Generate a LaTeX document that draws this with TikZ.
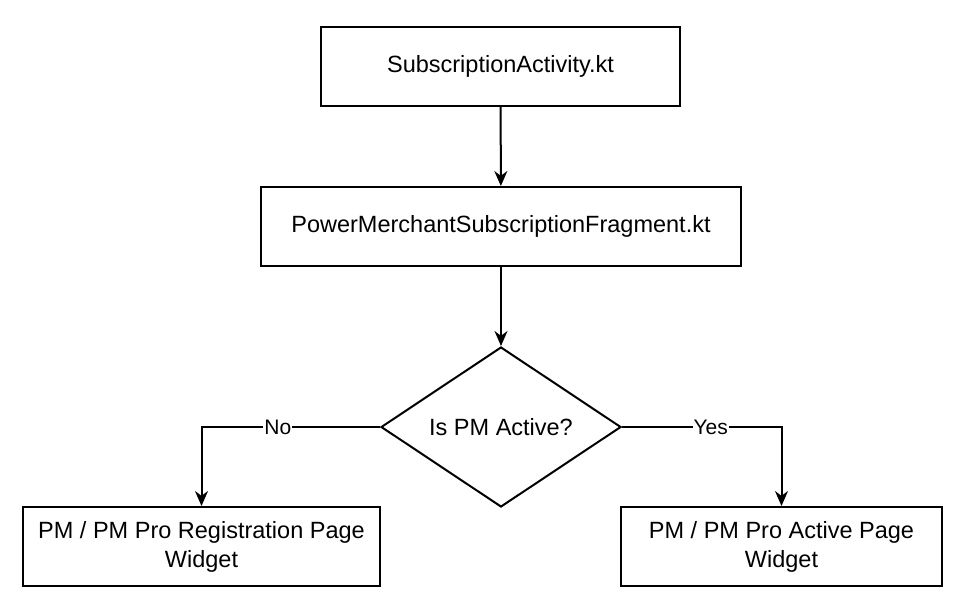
\documentclass[tikz,border=0pt]{standalone}
\usepackage{fontspec}
\setmainfont{Liberation Sans}
\usetikzlibrary{shapes.geometric,arrows.meta}

\begin{document}
\begin{tikzpicture}[x=1pt, y=-1pt, >={Stealth[length=15pt,width=13pt]},
  every node/.style={font=\fontsize{23.5}{29}\selectfont},
  box/.style={draw, line width=2pt, inner sep=0pt, align=center, minimum height=79pt},
  flow/.style={->, line width=2pt}]
  \useasboundingbox (0,0) rectangle (962,614);
  \node[box, minimum width=359pt] (act) at (500.5,66) {SubscriptionActivity.kt};
  \node[box, minimum width=480pt] (frag) at (501,226.5) {PowerMerchantSubscriptionFragment.kt};
  \node[draw, line width=2pt, shape=diamond, aspect=1.5, inner sep=0pt,
        minimum width=240pt, minimum height=160pt] (pm) at (501,427) {Is PM Active?};
  \node[box, minimum width=357pt] (reg) at (201.5,546.5) {PM / PM Pro Registration Page\\Widget};
  \node[box, minimum width=321pt] (actv) at (781.5,546.5) {PM / PM Pro Active Page\\Widget};
  \draw[flow] (act) -- (frag);
  \draw[flow] (frag) -- (pm);
  \draw[flow] (pm.west) -| (reg.north)
    node[pos=0.286, fill=white, inner sep=1pt, font=\fontsize{21}{22}\selectfont] {No};
  \draw[flow] (pm.east) -| (actv.north)
    node[pos=0.278, fill=white, inner sep=1pt, font=\fontsize{21}{22}\selectfont] {Yes};
\end{tikzpicture}
\end{document}
